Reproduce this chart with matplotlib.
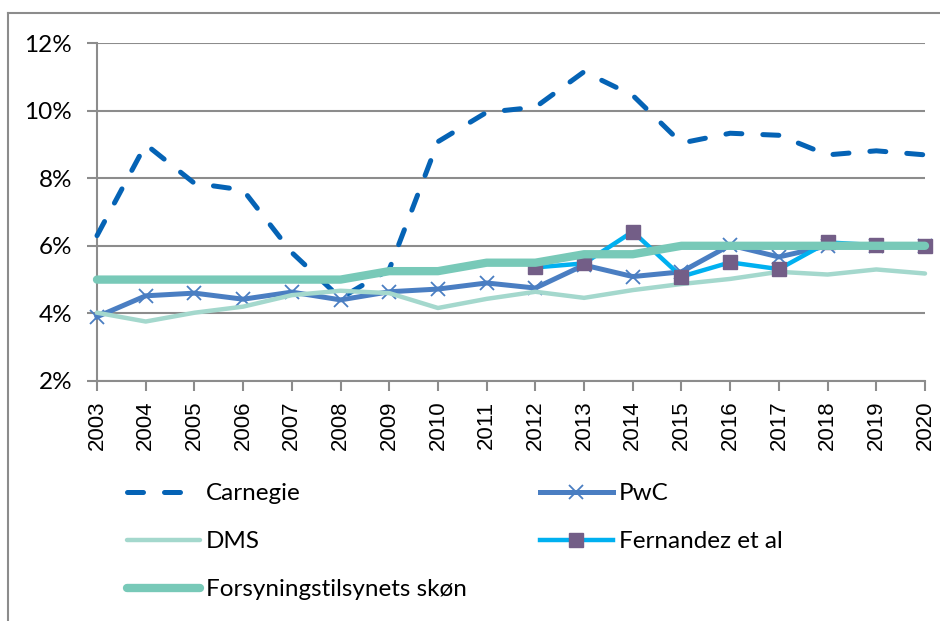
import matplotlib
matplotlib.use('Agg')
import matplotlib.pyplot as plt
from matplotlib.lines import Line2D
from matplotlib.ticker import FuncFormatter

years = list(range(2003, 2021))

carnegie = [6.3, 9.0, 7.85, 7.65, 5.8, 4.45, 5.3, 9.08, 9.95, 10.1, 11.15, 10.45,
            9.04, 9.33, 9.27, 8.69, 8.81, 8.69]
pwc = [3.9, 4.52, 4.6, 4.42, 4.63, 4.4, 4.64, 4.72, 4.9, 4.75, 5.43, 5.09,
       5.23, 6.02, 5.67, 6.0, 6.0, 6.0]
dms = [4.02, 3.76, 4.02, 4.2, 4.54, 4.67, 4.6, 4.16, 4.43, 4.64, 4.46, 4.69,
       4.87, 5.02, 5.23, 5.15, 5.3, 5.18]
fern_years = list(range(2012, 2021))
fernandez = [5.36, 5.48, 6.42, 5.09, 5.51, 5.31, 6.1, 6.02, 6.0]
forsyning = [5.0, 5.0, 5.0, 5.0, 5.0, 5.0, 5.25, 5.25, 5.5, 5.5, 5.75, 5.75,
             6.0, 6.0, 6.0, 6.0, 6.0, 6.0]

labels = ['Carnegie', 'PwC', 'DMS', 'Fernandez et al', 'Forsyningstilsynets skøn']
yticks = [2, 4, 6, 8, 10, 12]

grey = '#8c8c8c'

fig = plt.figure(figsize=(9.4, 6.21), dpi=100)
ax = fig.add_axes([97 / 940, 1 - 381 / 621, 828 / 940, 338 / 621])

l_car, = ax.plot(years, carnegie, color='#0563B5', lw=3.6, linestyle=(0, (3.2, 4.2)),
                 dash_capstyle='round', clip_on=False, zorder=3)
l_pwc, = ax.plot(years, pwc, color='#4A7EC2', lw=3.6, marker='x', ms=10, mew=1.3,
                 clip_on=False, zorder=4)
l_dms, = ax.plot(years, dms, color='#A4D8CD', lw=3.2, solid_capstyle='round',
                 clip_on=False, zorder=5)
l_fer, = ax.plot(fern_years, fernandez, color='#00B0F0', lw=3.2, marker='s', ms=10,
                 mfc='#735E87', mec='#735E87', clip_on=False, zorder=6)
l_for, = ax.plot(years, forsyning, color='#78C9B8', lw=6, solid_capstyle='round',
                 clip_on=False, zorder=7)

ax.set_xlim(2003, 2020)
ax.set_ylim(2, 12)
ax.set_xticks(years)
ax.set_xticklabels([str(y) for y in years], rotation=90, family='Liberation Sans', fontsize=16)
ax.set_yticks(yticks)
ax.yaxis.set_major_formatter(FuncFormatter(lambda v, p: '%d%%' % v))
for t in ax.get_yticklabels():
    t.set_family('Lato')
    t.set_fontsize(17.5)
ax.grid(axis='y', color=grey, lw=1.5)
ax.set_axisbelow(True)
for s in ['top', 'right']:
    ax.spines[s].set_visible(False)
for s in ['left', 'bottom']:
    ax.spines[s].set_color(grey)
    ax.spines[s].set_linewidth(1.5)
ax.tick_params(axis='y', length=7, width=1.5, color=grey, pad=11)
ax.tick_params(axis='x', length=7, width=1.5, color=grey, pad=7)

# outer frame
fig.add_artist(Line2D([8 / 940, 8 / 940], [0, 1 - 13 / 621], color=grey, lw=1.5))
fig.add_artist(Line2D([8 / 940, 1], [1 - 13 / 621, 1 - 13 / 621], color=grey, lw=1.5))

handles = [l_car, l_dms, l_for, l_pwc, l_fer]
leg_labels = [labels[0], labels[2], labels[4], labels[1], labels[3]]
fig.legend(handles, leg_labels, ncol=2, loc='upper left',
           bbox_to_anchor=(127 / 940, 1 - 483 / 621), frameon=False,
           prop={'family': 'Lato', 'size': 17.5}, handlelength=3.0, handletextpad=0.25,
           columnspacing=3.0, labelspacing=1.12, borderpad=0, borderaxespad=0)

fig.savefig('out.png', dpi=100)
